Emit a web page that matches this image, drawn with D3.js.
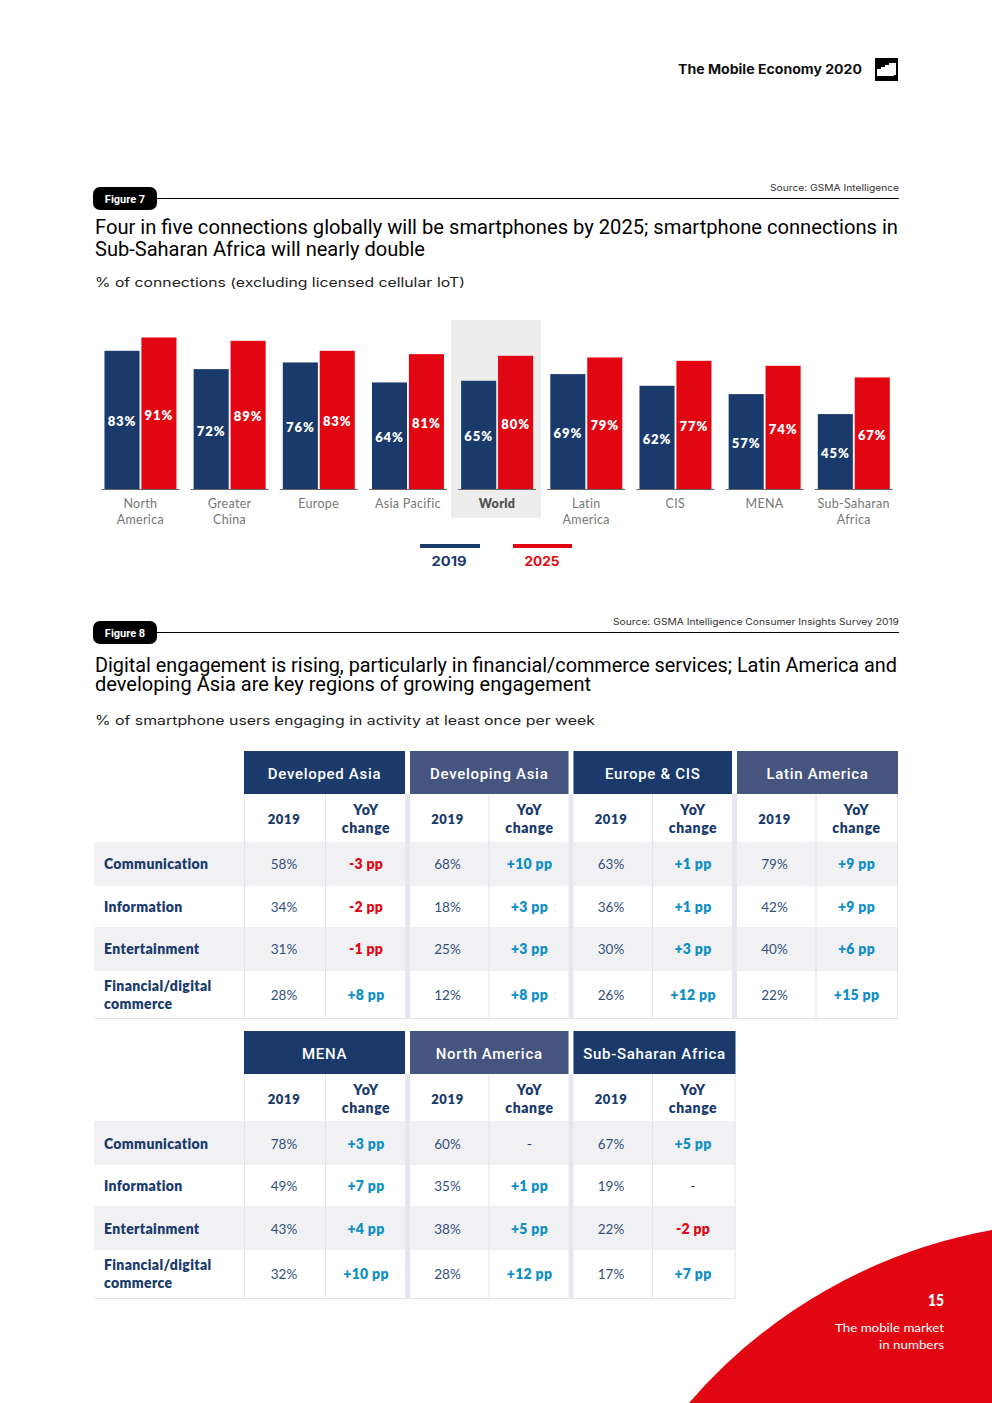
<!DOCTYPE html>
<html><head><meta charset="utf-8">
<script src="https://cdnjs.cloudflare.com/ajax/libs/d3/7.8.5/d3.min.js"></script>
<style>html,body{margin:0;padding:0;background:#fff}svg{display:block}</style>
</head><body><svg id="c" width="992" height="1403"></svg>
<script>
const categories=["North America","Greater China","Europe","Asia Pacific","World","Latin America","CIS","MENA","Sub-Saharan Africa"];
const categoryLines=[["North","America"],["Greater","China"],["Europe"],["Asia Pacific"],["World"],["Latin","America"],["CIS"],["MENA"],["Sub-Saharan","Africa"]];
const series=["2019","2025"];
const values2019=[83,72,76,64,65,69,62,57,45];
const values2025=[91,89,83,81,80,79,77,74,67];
const rowLabels=[["Communication"],["Information"],["Entertainment"],["Financial/digital","commerce"]];
const regionsTop=["Developed Asia","Developing Asia","Europe & CIS","Latin America"];
const regionsBottom=["MENA","North America","Sub-Saharan Africa"];
const share2019=[[58,34,31,28],[68,18,25,12],[63,36,30,26],[79,42,40,22]];
const shareYoY=[[-3,-2,-1,8],[10,3,3,8],[1,1,3,12],[9,9,6,15]];
const share2019B=[[78,49,43,32],[60,35,38,28],[67,19,22,17]];
const shareYoYB=[[3,7,4,10],[null,1,5,12],[5,null,-2,7]];

const NAVY="#1a3a6b",SLATE="#46557f",RED="#e20613",BLUE="#0f8fc6",LINE="#e3e4ea",SEP="#e7e7ef",ROW="#f1f1f3";
const COND="'Roboto',sans-serif",WIDE="'Inter',sans-serif",BODY="'Lato',sans-serif";
const svg=d3.select("#c");
function t(x,y,s,o={}){
  const e=svg.append("text").attr("x",x).attr("y",y).text(s)
   .attr("font-family",o.f||BODY).attr("font-size",o.s||12).attr("font-weight",o.w||400)
   .attr("fill",o.c||"#000").attr("text-anchor",o.a||"start");
  if(o.ls)e.attr("letter-spacing",o.ls);
  if(o.fit)e.attr("textLength",o.fit).attr("lengthAdjust","spacingAndGlyphs");
  return e;
}
// page furniture
t(862,74,"The Mobile Economy 2020",{f:WIDE,s:13,w:700,a:"end",fit:184,c:"#111"});
svg.append("rect").attr("x",875).attr("y",58).attr("width",23).attr("height",23).attr("fill","#000");
svg.append("path").attr("d","M877 75V69H881V67H885V65H889V63H896V75H894V76H877Z").attr("fill","#fff");
svg.append("path").attr("d","M689 1403A522 522 0 0 1 992 1230V1403Z").attr("fill",RED);
t(944,1306,"15",{f:BODY,s:16,w:900,a:"end",c:"#fff",fit:16});
t(944,1332,"The mobile market",{f:BODY,s:12,a:"end",c:"#fff",fit:109});
t(944,1349,"in numbers",{f:BODY,s:12,a:"end",c:"#fff",fit:65});

function figure(label,y,source,srcW){
  svg.append("line").attr("x1",150).attr("x2",899).attr("y1",y+.5).attr("y2",y+.5).attr("stroke","#000").attr("stroke-width",1);
  svg.append("rect").attr("x",93).attr("y",y-11).attr("width",64).attr("height",23).attr("rx",7).attr("fill","#000");
  t(125,y+5,label,{f:COND,s:11,w:700,a:"middle",c:"#fff"});
  t(899,y-7,source,{f:WIDE,s:9,a:"end",c:"#333",fit:srcW});
}
figure("Figure 7",198,"Source: GSMA Intelligence",129);
figure("Figure 8",632,"Source: GSMA Intelligence Consumer Insights Survey 2019",286);
t(95,234,"Four in five connections globally will be smartphones by 2025; smartphone connections in",{f:COND,s:20,w:400,fit:803,c:"#000"});
t(95,256,"Sub-Saharan Africa will nearly double",{f:COND,s:20,w:400,fit:330,c:"#000"});
t(95,287,"% of connections (excluding licensed cellular IoT)",{f:WIDE,s:12.5,c:"#222",fit:370});
t(95,672,"Digital engagement is rising, particularly in financial/commerce services; Latin America and",{f:COND,s:20,w:400,fit:802,c:"#000"});
t(95,691,"developing Asia are key regions of growing engagement",{f:COND,s:20,w:400,fit:496,c:"#000"});
t(95,725,"% of smartphone users engaging in activity at least once per week",{f:WIDE,s:12.5,c:"#222",fit:500});

// Figure 7 bars
const x0=d3.scaleBand().domain(categories).range([95.8,898.3]).paddingInner(.127).paddingOuter(.0635);
const x1=d3.scaleBand().domain(series).range([3,75]).paddingInner(.05);
const y=d3.scaleLinear().domain([0,100]).range([489,322.5]);
const colour=d3.scaleOrdinal().domain(series).range([NAVY,RED]);
svg.append("rect").attr("x",451).attr("y",320).attr("width",90).attr("height",198).attr("fill","#ededed");
categories.forEach((c,i)=>{
  const g=svg.append("g").attr("transform",`translate(${x0(c)},0)`);
  g.append("line").attr("x1",0).attr("x2",x0.bandwidth()).attr("y1",489.5).attr("y2",489.5).attr("stroke","#666").attr("stroke-width",1);
  [values2019[i],values2025[i]].forEach((v,j)=>{
    const s=series[j];
    g.append("rect").attr("x",x1(s)).attr("width",x1.bandwidth()).attr("y",y(v)).attr("height",y(0)-y(v)).attr("fill",colour(s));
    g.append("text").attr("x",x1(s)+x1.bandwidth()/2).attr("y",(y(v)+y(0))/2+6.5).attr("text-anchor","middle")
     .attr("font-family",BODY).attr("font-weight",800).attr("font-size",13).attr("letter-spacing",.9).attr("fill","#fff").text(v+"%");
  });
  categoryLines[i].forEach((l,k)=>{
    g.append("text").attr("x",x0.bandwidth()/2).attr("y",508+k*16).attr("text-anchor","middle")
     .attr("font-family",BODY).attr("font-size",12.5).attr("font-weight",c==="World"?800:400)
     .attr("letter-spacing",.3).attr("fill",c==="World"?"#555":"#777").text(l);
  });
});
[[420,60,449,0],[513,59,542,1]].forEach(([lx,lw,tx,j])=>{
  svg.append("rect").attr("x",lx).attr("y",544).attr("width",lw).attr("height",4).attr("fill",colour(series[j]));
  t(tx,566,series[j],{f:WIDE,s:13,w:700,a:"middle",c:colour(series[j]),fit:35});
});

// Figure 8 tables
const slot=d3.scaleLinear().domain([0,4]).range([244,898]);
function table(top,regions,shares,changes,rowEdges,headFill,dy){
  const n=regions.length,bottom=rowEdges[4],last=slot(n);
  rowEdges.slice(0,4).forEach((r,i)=>{
    if(i%2===0)svg.append("rect").attr("x",94).attr("y",r).attr("width",last-94+(n<4?1:0)).attr("height",rowEdges[i+1]-r).attr("fill",ROW);
  });
  const subTop=top+43;
  svg.append("line").attr("x1",94).attr("x2",last+(n<4?1:0)).attr("y1",bottom+.5).attr("y2",bottom+.5).attr("stroke",LINE);
  regions.forEach((name,i)=>{
    const e=slot(i),l=i?e+2.5:e,rEdge=i<n-1?slot(i+1)-2.5:last+(n<4?1:0);
    svg.append("rect").attr("x",l).attr("y",top).attr("width",rEdge-l).attr("height",43).attr("fill",headFill[i]);
    t((l+rEdge)/2,top+27.5,name,{f:COND,s:15,w:500,a:"middle",c:"#fff",ls:.7});
    svg.append("line").attr("x1",e+.5).attr("x2",e+.5).attr("y1",subTop).attr("y2",bottom).attr("stroke",LINE);
    svg.append("line").attr("x1",e+81.5).attr("x2",e+81.5).attr("y1",subTop).attr("y2",bottom).attr("stroke",LINE);
    if(i<n-1)svg.append("rect").attr("x",slot(i+1)-2.5).attr("y",subTop).attr("width",5).attr("height",bottom-subTop).attr("fill",SEP);
    else svg.append("line").attr("x1",rEdge-.5).attr("x2",rEdge-.5).attr("y1",subTop).attr("y2",bottom).attr("stroke",LINE);
    t(e+40,subTop+29.5,"2019",{s:13,w:800,a:"middle",c:NAVY,ls:.6});
    t(e+122,subTop+20.5,"YoY",{s:14,w:800,a:"middle",c:NAVY,ls:.6});
    t(e+122,subTop+38.5,"change",{s:14,w:800,a:"middle",c:NAVY,ls:.6});
    shares[i].forEach((v,k)=>{
      const mid=(rowEdges[k]+rowEdges[k+1])/2+dy[k];
      t(e+40,mid+5,v+"%",{s:13.5,w:400,a:"middle",c:"#33507c"});
      const ch=changes[i][k];
      const lab=ch===null?"-":(ch>0?"+":"-")+Math.abs(ch)+" pp";
      t(e+122,mid+5,lab,{s:14,w:ch===null?400:800,a:"middle",c:ch===null?NAVY:(ch<0?RED:BLUE),ls:.3});
    });
  });
  rowLabels.forEach((ls,k)=>{
    const mid=(rowEdges[k]+rowEdges[k+1])/2+dy[k];
    ls.forEach((s,j)=>t(104,mid+5-(ls.length-1)*9+j*18,s,{s:14,w:800,c:NAVY,ls:.35}));
  });
}
table(751,regionsTop,share2019,shareYoY,[842,886,927,971,1018],[NAVY,SLATE,NAVY,SLATE],[0,0,0,0]);
table(1031,regionsBottom,share2019B,shareYoYB,[1121,1165,1206,1250,1298],[NAVY,SLATE,NAVY],[1,.5,1,0]);
</script></body></html>
